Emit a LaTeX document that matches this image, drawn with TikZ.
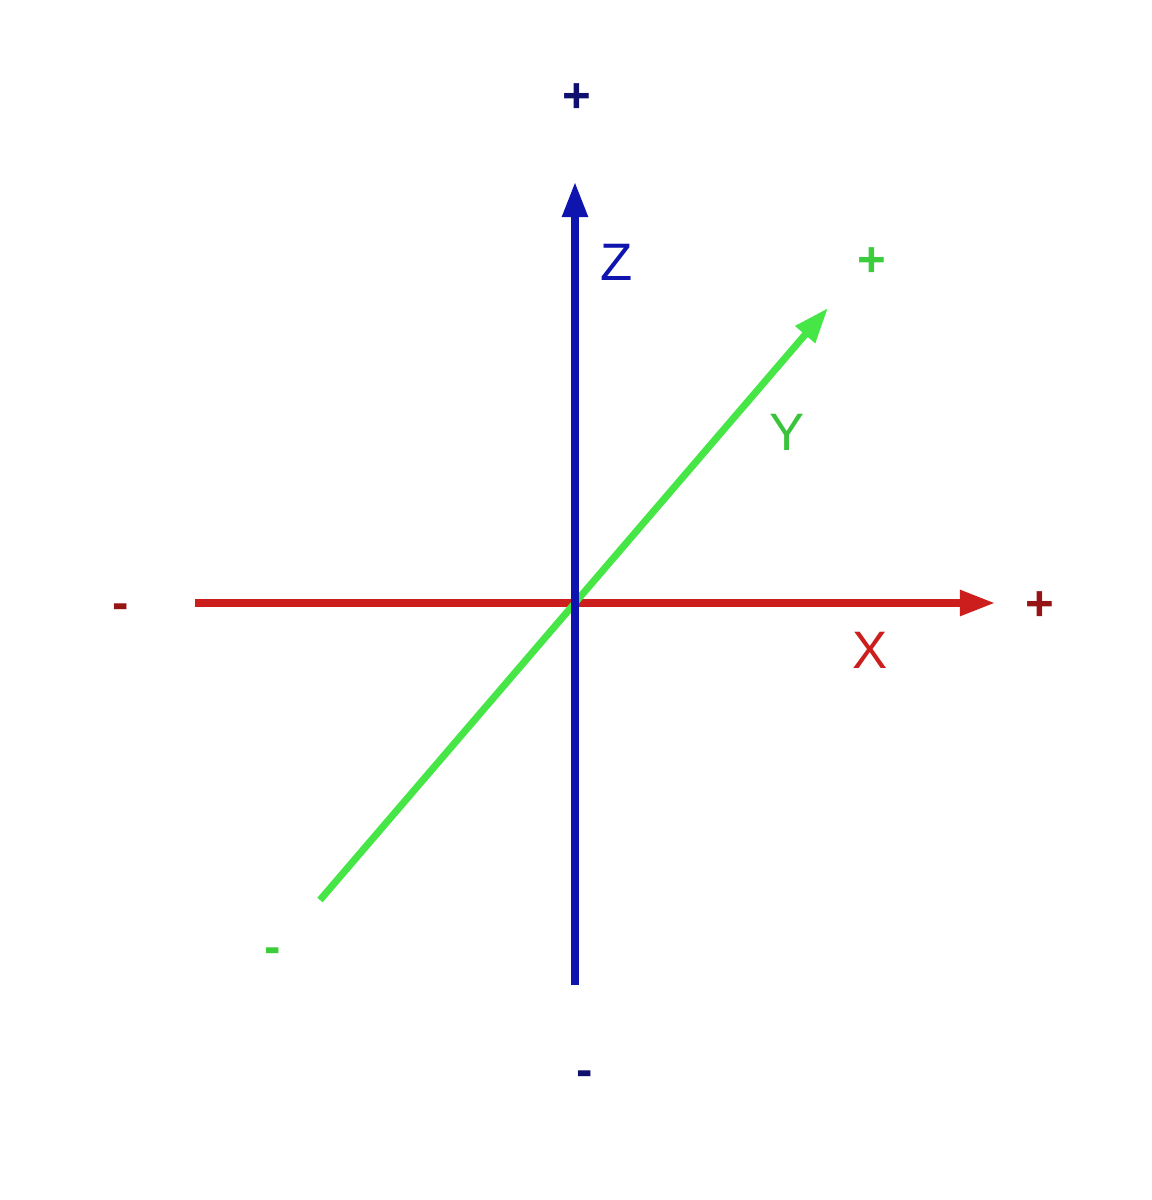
\documentclass[tikz,border=0pt]{standalone}
\usepackage{fontspec}
\setmainfont{Liberation Sans}
\usetikzlibrary{arrows.meta}

\definecolor{zblue}{RGB}{15,20,175}
\definecolor{xred}{RGB}{205,30,30}
\definecolor{ygreen}{RGB}{70,230,70}
\definecolor{zsign}{RGB}{15,15,110}
\definecolor{xsign}{RGB}{150,20,20}
\definecolor{ysign}{RGB}{60,205,60}

\tikzset{
  axis/.style={line width=2pt, -{Triangle[length=10pt,width=7pt]}},
  letter/.style={font=\fontsize{15}{18}\selectfont},
  sign/.style={font=\bfseries\fontsize{14}{16}\selectfont}
}

\begin{document}
\begin{tikzpicture}[scale=1]

  % --- Canvas ---
  \useasboundingbox (-5.75,-5.97) rectangle (5.77,6.03);

  % --- Axis end points ---
  \coordinate (O) at (0,0);
  \coordinate (Xneg) at (-3.80,0);
  \coordinate (Xpos) at (4.20,0);
  \coordinate (Yneg) at (-2.55,-2.97);
  \coordinate (Ypos) at (2.53,2.95);
  \coordinate (Zneg) at (0,-3.82);
  \coordinate (Zpos) at (0,4.21);

  % --- Axes ---
  \draw[axis, xred] (Xneg) -- (Xpos);
  \draw[axis, ygreen] (Yneg) -- (Ypos);
  \draw[axis, zblue] (Zneg) -- (Zpos);

  % --- Axis names ---
  \node[letter, text=zblue] (zname) at (0.42,3.41) {Z};
  \node[letter, text=ygreen!85!black] (yname) at (2.12,1.71) {Y};
  \node[letter, text=xred] (xname) at (2.95,-0.47) {X};

  % --- Signs ---
  \node[sign, text=zsign] (zplus) at (0.02,5.05) {+};
  \node[sign, text=zsign] (zminus) at (0.10,-4.76) {-};
  \node[sign, text=ysign] (yplus) at (2.97,3.41) {+};
  \node[sign, text=ysign] (yminus) at (-3.02,-3.53) {-};
  \node[sign, text=xsign] (xplus) at (4.65,-0.03) {+};
  \node[sign, text=xsign] (xminus) at (-4.54,-0.09) {-};

\end{tikzpicture}
\end{document}
